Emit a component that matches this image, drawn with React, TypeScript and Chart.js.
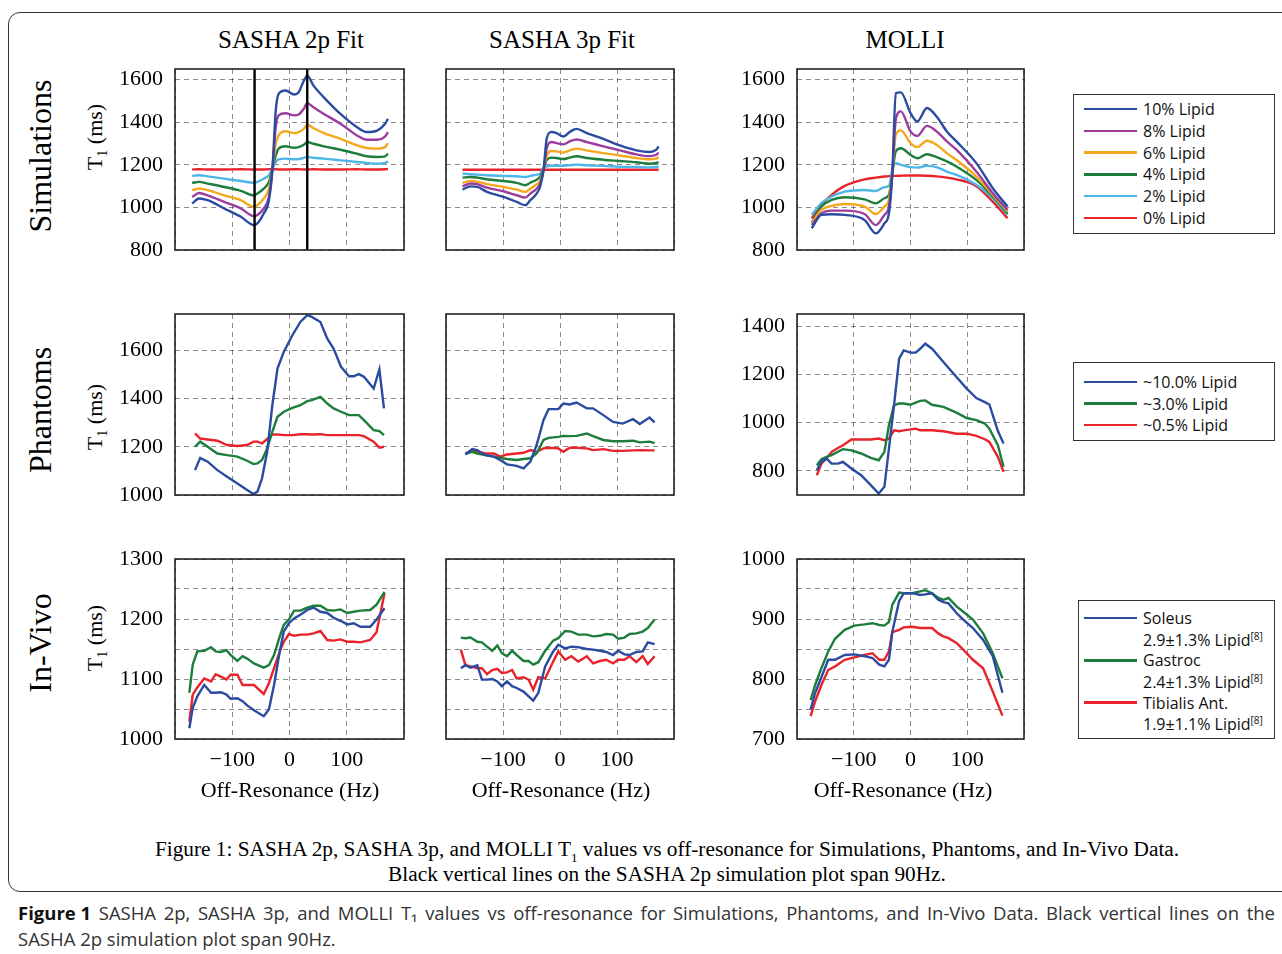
import React, { useEffect, useRef } from 'react';
import { Chart, registerables } from 'chart.js';
Chart.register(...registerables);

// ---------- DATA ----------
// Row 1: Simulations
const sim2pHz = [-170, -158, -143, -114, -85, -62, -56, -45, -36, -30, -24, -19, -7, 8, 16, 25, 31, 42, 60, 89, 118, 135, 153, 167, 172];
const sim2pLipid10 = [1018, 1042, 1034, 995, 956, 917, 925, 971, 1034, 1174, 1455, 1533, 1549, 1530, 1541, 1595, 1619, 1572, 1517, 1439, 1377, 1354, 1361, 1393, 1416];
const sim2pLipid8 = [1049, 1068, 1057, 1026, 995, 959, 964, 995, 1049, 1174, 1377, 1432, 1442, 1432, 1436, 1463, 1489, 1470, 1439, 1393, 1338, 1318, 1318, 1333, 1354];
const sim2pLipid6 = [1081, 1088, 1081, 1057, 1034, 1003, 1010, 1041, 1088, 1174, 1299, 1338, 1358, 1349, 1354, 1369, 1388, 1372, 1349, 1322, 1291, 1279, 1276, 1283, 1302];
const sim2pLipid4 = [1115, 1120, 1112, 1096, 1078, 1057, 1065, 1088, 1120, 1177, 1244, 1276, 1287, 1280, 1283, 1294, 1307, 1299, 1287, 1271, 1252, 1240, 1237, 1240, 1252];
const sim2pLipid2 = [1148, 1151, 1146, 1135, 1124, 1115, 1120, 1135, 1151, 1181, 1214, 1226, 1229, 1226, 1227, 1233, 1237, 1233, 1229, 1221, 1213, 1209, 1205, 1209, 1216];
const sim2pLipid0 = [1178, 1179, 1178, 1178, 1179, 1178, 1178, 1178, 1179, 1179, 1179, 1178, 1178, 1179, 1179, 1178, 1178, 1179, 1178, 1178, 1179, 1178, 1178, 1179, 1180];
const sim2pMarkerHz = [-61, 31];

const sim3pHz = [-171, -157, -145, -128, -99, -76, -61, -52, -41, -35, -29, -23, -15, -6, 6, 17, 29, 47, 76, 105, 134, 157, 169, 173];
const sim3pLipid10 = [1084, 1099, 1096, 1073, 1049, 1026, 1010, 1034, 1065, 1096, 1174, 1327, 1354, 1349, 1333, 1354, 1369, 1349, 1322, 1291, 1268, 1260, 1271, 1287];
const sim3pLipid8 = [1099, 1112, 1109, 1093, 1076, 1057, 1046, 1065, 1088, 1112, 1174, 1280, 1307, 1302, 1296, 1310, 1319, 1307, 1287, 1268, 1249, 1241, 1247, 1257];
const sim3pLipid6 = [1115, 1124, 1121, 1109, 1096, 1084, 1073, 1088, 1109, 1124, 1174, 1244, 1265, 1263, 1258, 1268, 1276, 1268, 1255, 1244, 1232, 1226, 1229, 1237];
const sim3pLipid4 = [1140, 1143, 1140, 1132, 1124, 1115, 1104, 1116, 1130, 1143, 1179, 1224, 1234, 1232, 1227, 1234, 1240, 1232, 1224, 1218, 1212, 1205, 1209, 1213];
const sim3pLipid2 = [1159, 1156, 1154, 1151, 1148, 1146, 1143, 1148, 1154, 1159, 1181, 1193, 1196, 1196, 1196, 1198, 1201, 1198, 1195, 1191, 1190, 1188, 1190, 1193];
const sim3pLipid0 = [1177, 1177, 1177, 1177, 1177, 1177, 1177, 1177, 1177, 1177, 1177, 1177, 1177, 1177, 1177, 1177, 1177, 1177, 1177, 1177, 1177, 1177, 1177, 1177];

const simMolliHz = [-174, -157, -139, -116, -81, -61, -46, -38, -32, -26, -17, 0, 12, 29, 46, 64, 81, 116, 145, 171];
const simMolliLipid10 = [902, 965, 968, 965, 941, 878, 925, 972, 1161, 1537, 1540, 1443, 1404, 1467, 1427, 1357, 1310, 1208, 1090, 1004];
const simMolliLipid8 = [917, 972, 985, 985, 969, 917, 965, 1004, 1161, 1412, 1451, 1357, 1336, 1383, 1357, 1310, 1271, 1169, 1067, 988];
const simMolliLipid6 = [925, 988, 1007, 1016, 1004, 969, 1004, 1035, 1161, 1341, 1362, 1302, 1283, 1313, 1294, 1255, 1223, 1145, 1059, 980];
const simMolliLipid4 = [928, 1004, 1035, 1048, 1038, 1019, 1043, 1059, 1161, 1263, 1278, 1247, 1231, 1250, 1236, 1216, 1192, 1129, 1051, 972];
const simMolliLipid2 = [965, 1020, 1051, 1074, 1082, 1077, 1095, 1101, 1176, 1208, 1200, 1189, 1187, 1195, 1189, 1168, 1153, 1106, 1043, 965];
const simMolliLipid0 = [949, 1012, 1059, 1101, 1132, 1140, 1145, 1147, 1148, 1148, 1149, 1150, 1150, 1149, 1146, 1140, 1132, 1100, 1027, 949];

// Row 2: Phantoms
const ph2pHz = [-165, -156, -143, -126, -109, -91, -74, -63, -56, -48, -39, -30, -21, -10, 5, 19, 31, 39, 54, 66, 77, 90, 104, 112, 121, 130, 147, 157, 165];
const ph2pLipid10 = [1103, 1154, 1138, 1103, 1076, 1048, 1021, 1004, 1014, 1069, 1179, 1372, 1524, 1593, 1662, 1717, 1745, 1738, 1717, 1648, 1607, 1531, 1492, 1492, 1501, 1490, 1441, 1520, 1359];
const ph2pLipid3 = [1200, 1221, 1200, 1172, 1165, 1159, 1142, 1128, 1131, 1145, 1193, 1262, 1324, 1345, 1361, 1372, 1389, 1393, 1407, 1379, 1359, 1345, 1331, 1331, 1331, 1310, 1269, 1265, 1248];
const ph2pLipid05 = [1255, 1234, 1230, 1225, 1207, 1203, 1207, 1221, 1221, 1214, 1232, 1251, 1251, 1248, 1248, 1252, 1252, 1251, 1252, 1248, 1248, 1248, 1248, 1248, 1248, 1244, 1221, 1196, 1200];

const ph3pHz = [-166, -154, -145, -131, -116, -105, -93, -76, -64, -52, -41, -29, -20, -3, 6, 17, 29, 47, 58, 76, 93, 110, 128, 140, 157, 166];
const ph3pLipid10 = [1168, 1190, 1186, 1165, 1159, 1145, 1127, 1121, 1110, 1138, 1207, 1310, 1356, 1356, 1379, 1375, 1383, 1359, 1359, 1331, 1303, 1296, 1314, 1294, 1321, 1301];
const ph3pLipid3 = [1170, 1179, 1172, 1165, 1159, 1154, 1149, 1145, 1149, 1152, 1172, 1228, 1237, 1241, 1245, 1244, 1245, 1255, 1244, 1228, 1223, 1223, 1225, 1218, 1221, 1215];
const ph3pLipid05 = [1172, 1183, 1179, 1172, 1172, 1159, 1168, 1172, 1175, 1186, 1179, 1193, 1196, 1193, 1179, 1196, 1196, 1193, 1186, 1190, 1183, 1183, 1185, 1186, 1185, 1185];

const phMolliHz = [-165, -157, -148, -139, -128, -119, -104, -87, -70, -56, -46, -38, -29, -20, -12, 0, 9, 17, 26, 38, 58, 81, 99, 116, 131, 139, 154, 164];
const phMolliLipid10 = [803, 837, 851, 830, 830, 837, 810, 782, 741, 706, 734, 892, 1072, 1265, 1299, 1290, 1290, 1306, 1327, 1306, 1251, 1189, 1141, 1102, 1085, 1075, 965, 913];
const phMolliLipid3 = [823, 848, 858, 865, 879, 890, 885, 872, 854, 844, 879, 989, 1072, 1079, 1079, 1074, 1083, 1090, 1092, 1074, 1065, 1041, 1019, 1010, 996, 975, 906, 817];
const phMolliLipid05 = [782, 830, 851, 879, 895, 906, 930, 930, 930, 934, 927, 934, 968, 964, 968, 972, 975, 968, 968, 968, 964, 954, 954, 945, 931, 920, 858, 796];

// Row 3: In-Vivo
const iv2pHz = [-175, -169, -161, -149, -137, -129, -120, -110, -103, -91, -82, -74, -62, -45, -36, -27, -17, -10, -1, 8, 19, 31, 42, 54, 66, 77, 89, 101, 112, 124, 141, 152, 166];
const iv2pSoleus = [1018, 1052, 1071, 1090, 1077, 1077, 1078, 1074, 1067, 1068, 1063, 1056, 1048, 1038, 1049, 1090, 1146, 1179, 1193, 1201, 1207, 1215, 1219, 1212, 1210, 1202, 1197, 1191, 1193, 1187, 1187, 1199, 1218];
const iv2pGastroc = [1077, 1124, 1146, 1147, 1153, 1146, 1145, 1148, 1140, 1130, 1138, 1134, 1126, 1119, 1123, 1140, 1171, 1190, 1199, 1214, 1214, 1219, 1222, 1222, 1215, 1214, 1216, 1210, 1212, 1214, 1215, 1224, 1245];
const iv2pTibialis = [1029, 1074, 1086, 1101, 1096, 1108, 1104, 1099, 1107, 1107, 1090, 1090, 1090, 1075, 1093, 1118, 1146, 1162, 1175, 1172, 1174, 1174, 1176, 1180, 1165, 1164, 1166, 1162, 1162, 1161, 1165, 1178, 1243];

const iv3pHz = [-174, -166, -157, -145, -137, -128, -119, -110, -102, -93, -84, -76, -64, -55, -47, -38, -26, -12, -3, 9, 20, 32, 47, 58, 70, 81, 93, 102, 113, 122, 134, 145, 154, 166];
const iv3pSoleus = [1118, 1123, 1119, 1123, 1099, 1099, 1100, 1096, 1088, 1096, 1088, 1085, 1079, 1071, 1064, 1077, 1121, 1146, 1157, 1151, 1154, 1153, 1150, 1149, 1147, 1145, 1140, 1147, 1141, 1140, 1145, 1146, 1161, 1158];
const iv3pGastroc = [1169, 1168, 1169, 1162, 1161, 1154, 1147, 1156, 1143, 1138, 1147, 1140, 1130, 1130, 1124, 1128, 1147, 1164, 1168, 1180, 1179, 1174, 1174, 1171, 1172, 1175, 1174, 1167, 1169, 1175, 1176, 1179, 1185, 1199];
const iv3pTibialis = [1149, 1123, 1121, 1118, 1118, 1108, 1115, 1117, 1110, 1111, 1115, 1101, 1103, 1099, 1082, 1103, 1101, 1129, 1146, 1132, 1138, 1129, 1138, 1126, 1130, 1132, 1126, 1132, 1132, 1138, 1128, 1138, 1125, 1138];

const ivMolliHz = [-176, -168, -157, -145, -133, -116, -99, -81, -67, -55, -46, -38, -32, -20, -12, 3, 17, 26, 38, 49, 58, 67, 81, 93, 110, 128, 145, 162];
const ivMolliSoleus = [749, 777, 803, 832, 832, 840, 841, 838, 835, 824, 821, 832, 879, 930, 943, 943, 940, 941, 943, 932, 928, 926, 910, 899, 885, 865, 838, 777];
const ivMolliGastroc = [765, 790, 818, 846, 867, 882, 889, 891, 893, 890, 889, 895, 924, 944, 943, 943, 946, 948, 943, 935, 932, 935, 921, 912, 899, 876, 843, 801];
const ivMolliTibialis = [738, 763, 790, 815, 821, 832, 836, 840, 843, 832, 832, 846, 878, 882, 886, 887, 885, 885, 885, 876, 871, 868, 860, 849, 832, 818, 779, 739];

// Labels
const columnTitles = ['SASHA 2p Fit', 'SASHA 3p Fit', 'MOLLI'];
const rowTitles = ['Simulations', 'Phantoms', 'In-Vivo'];
const simLegend = ['10% Lipid', '8% Lipid', '6% Lipid', '4% Lipid', '2% Lipid', '0% Lipid'];
const phantomLegend = ['~10.0% Lipid', '~3.0% Lipid', '~0.5% Lipid'];
const vivoLegendNames = ['Soleus', 'Gastroc', 'Tibialis Ant.'];
const vivoLegendLipid = ['2.9\u00b11.3% Lipid', '2.4\u00b11.3% Lipid', '1.9\u00b11.1% Lipid'];
const xTickLabels = ['\u2212100', '0', '100'];
const outerCaptionLine1 = 'SASHA 2p, SASHA 3p, and MOLLI T\u2081 values vs off-resonance for Simulations, Phantoms, and In-Vivo Data. Black vertical lines on the';

// ---------- STYLE ----------
const COL = { blue: '#2B4BA0', purple: '#9A3D9E', orange: '#F4A81D', green: '#1C7D3C', light: '#4DB6E8', red: '#E8232B' };
const simColors = [COL.blue, COL.purple, COL.orange, COL.green, COL.light, COL.red];
const threeColors = [COL.blue, COL.green, COL.red];
const SERIF = '"Liberation Serif", "Times New Roman", serif';
const SANS = '"Open Sans", "Noto Sans", sans-serif';

const colGeo = [{ L: 175, W: 229 }, { L: 446, W: 228 }, { L: 797, W: 227 }];
const rowGeo = [{ T: 69, H: 181 }, { T: 314, H: 181 }, { T: 559, H: 180 }];

type PlotSpec = {
  row: number; col: number; hz: number[]; series: number[][]; colors: string[];
  yMin: number; yMax: number; yStep: number; yLabelStep: number; smooth: boolean; vlines?: number[];
};

const AXW = 70, PADT = 15, PADR = 10;

function Plot({ spec }: { spec: PlotSpec }) {
  const ref = useRef<HTMLCanvasElement>(null);
  const { L, W } = colGeo[spec.col];
  const { T, H } = rowGeo[spec.row];
  const showX = spec.row === 2;
  const showY = spec.col !== 1;
  const xh = showX ? 40 : 10;
  const cw = W + AXW + PADR;
  const ch = H + PADT + xh;
  useEffect(() => {
    const datasets: any[] = spec.series.map((s, k) => ({
      data: spec.hz.map((x, i) => ({ x, y: s[i] })),
      borderColor: spec.colors[k],
      borderWidth: 2.4,
      pointRadius: 0,
      fill: false,
      tension: 0,
      cubicInterpolationMode: spec.smooth ? 'monotone' : 'default',
      order: k,
    }));
    (spec.vlines || []).forEach((v) => {
      datasets.push({
        data: [{ x: v, y: spec.yMin }, { x: v, y: spec.yMax }],
        borderColor: '#000', borderWidth: 2.4, pointRadius: 0, fill: false, order: -1,
      });
    });
    const frame = {
      id: 'frame',
      afterDatasetsDraw(chart: any) {
        const { ctx, chartArea: a } = chart;
        ctx.save();
        ctx.setLineDash([]);
        ctx.strokeStyle = '#222';
        ctx.lineWidth = 1.6;
        ctx.strokeRect(a.left, a.top, a.right - a.left, a.bottom - a.top);
        ctx.restore();
      },
    };
    const chart = new Chart(ref.current as HTMLCanvasElement, {
      type: 'line',
      data: { datasets },
      plugins: [frame],
      options: {
        animation: false,
        responsive: false,
        maintainAspectRatio: false,
        layout: { padding: { top: PADT, right: PADR, left: 0, bottom: 0 } },
        plugins: { legend: { display: false }, tooltip: { enabled: false }, title: { display: false } },
        scales: {
          x: {
            type: 'linear', min: -200, max: 200,
            afterFit: (s: any) => { s.height = xh; s.paddingLeft = 0; s.paddingRight = 0; },
            ticks: {
              display: showX, stepSize: 100, includeBounds: false, autoSkip: false, maxRotation: 0,
              padding: 8, color: '#000', font: { family: SERIF, size: 22 },
              callback: (v: any) => {
                const n = Number(v);
                if (n === -100) return xTickLabels[0];
                if (n === 0) return xTickLabels[1];
                if (n === 100) return xTickLabels[2];
                return '';
              },
            },
            grid: { color: 'rgba(0,0,0,0.45)', lineWidth: 1, drawTicks: false },
            border: { display: false, dash: [5, 4] },
          },
          y: {
            type: 'linear', min: spec.yMin, max: spec.yMax,
            afterFit: (s: any) => { s.width = AXW; s.paddingTop = 0; s.paddingBottom = 0; },
            ticks: {
              display: showY, stepSize: spec.yStep, includeBounds: false, autoSkip: false,
              padding: 12, color: '#000', font: { family: SERIF, size: 22 },
              callback: (v: any) => (Number(v) % spec.yLabelStep === 0 ? String(v) : ''),
            },
            grid: { color: 'rgba(0,0,0,0.45)', lineWidth: 1, drawTicks: false },
            border: { display: false, dash: [5, 4] },
          },
        },
      } as any,
    });
    return () => chart.destroy();
  }, []);
  return (
    <canvas
      ref={ref}
      width={cw}
      height={ch}
      style={{ position: 'absolute', left: L - AXW, top: T - PADT, width: cw, height: ch }}
    />
  );
}

const plots: PlotSpec[] = [
  { row: 0, col: 0, hz: sim2pHz, series: [sim2pLipid10, sim2pLipid8, sim2pLipid6, sim2pLipid4, sim2pLipid2, sim2pLipid0], colors: simColors, yMin: 800, yMax: 1650, yStep: 200, yLabelStep: 200, smooth: true, vlines: sim2pMarkerHz },
  { row: 0, col: 1, hz: sim3pHz, series: [sim3pLipid10, sim3pLipid8, sim3pLipid6, sim3pLipid4, sim3pLipid2, sim3pLipid0], colors: simColors, yMin: 800, yMax: 1650, yStep: 200, yLabelStep: 200, smooth: true },
  { row: 0, col: 2, hz: simMolliHz, series: [simMolliLipid10, simMolliLipid8, simMolliLipid6, simMolliLipid4, simMolliLipid2, simMolliLipid0], colors: simColors, yMin: 800, yMax: 1650, yStep: 200, yLabelStep: 200, smooth: true },
  { row: 1, col: 0, hz: ph2pHz, series: [ph2pLipid10, ph2pLipid3, ph2pLipid05], colors: threeColors, yMin: 1000, yMax: 1750, yStep: 200, yLabelStep: 200, smooth: false },
  { row: 1, col: 1, hz: ph3pHz, series: [ph3pLipid10, ph3pLipid3, ph3pLipid05], colors: threeColors, yMin: 1000, yMax: 1750, yStep: 200, yLabelStep: 200, smooth: false },
  { row: 1, col: 2, hz: phMolliHz, series: [phMolliLipid10, phMolliLipid3, phMolliLipid05], colors: threeColors, yMin: 700, yMax: 1450, yStep: 200, yLabelStep: 200, smooth: false },
  { row: 2, col: 0, hz: iv2pHz, series: [iv2pSoleus, iv2pGastroc, iv2pTibialis], colors: threeColors, yMin: 1000, yMax: 1300, yStep: 50, yLabelStep: 100, smooth: false },
  { row: 2, col: 1, hz: iv3pHz, series: [iv3pSoleus, iv3pGastroc, iv3pTibialis], colors: threeColors, yMin: 1000, yMax: 1300, yStep: 50, yLabelStep: 100, smooth: false },
  { row: 2, col: 2, hz: ivMolliHz, series: [ivMolliSoleus, ivMolliGastroc, ivMolliTibialis], colors: threeColors, yMin: 700, yMax: 1000, yStep: 50, yLabelStep: 100, smooth: false },
];

function Txt({ x, y, size, family, children, rotate, weight, color }: any) {
  return (
    <div
      style={{
        position: 'absolute', left: x, top: y, whiteSpace: 'nowrap', lineHeight: 1,
        fontFamily: family || SERIF, fontSize: size, fontWeight: weight || 'normal', color: color || '#000',
        transform: `translate(-50%, -50%)${rotate ? ' rotate(-90deg)' : ''}`,
      }}
    >
      {children}
    </div>
  );
}

function LegendLine({ x, y, color }: any) {
  return <div style={{ position: 'absolute', left: x, top: y - 1.25, width: 53, height: 2.5, background: color }} />;
}
function LegendText({ x, y, children }: any) {
  return (
    <div style={{ position: 'absolute', left: x, top: y, transform: 'translateY(-50%)', fontFamily: SANS, fontSize: 16, lineHeight: 1, whiteSpace: 'nowrap', color: '#111' }}>
      {children}
    </div>
  );
}

export default function App() {
  const lx = 1084, tx = 1143;
  const words = outerCaptionLine1.split(' ');
  return (
    <div style={{ position: 'absolute', left: 0, top: 0, width: 1282, height: 954, background: '#fff', overflow: 'hidden' }}>
      <div style={{ position: 'absolute', left: 8, top: 12, width: 1300, height: 880, border: '1.5px solid #333', borderRadius: 12, boxSizing: 'border-box' }} />

      {columnTitles.map((t, i) => (
        <Txt key={t} x={[291, 562, 905][i]} y={39} size={25}>{t}</Txt>
      ))}
      {rowTitles.map((t, i) => (
        <Txt key={t} x={40} y={[156, 410, 643][i]} size={32} rotate>{t}</Txt>
      ))}
      {[137, 417, 638].map((y) => (
        <Txt key={y} x={95} y={y} size={22} rotate>
          T<sub style={{ fontSize: 14, verticalAlign: 'sub', lineHeight: 0 }}>1</sub> (ms)
        </Txt>
      ))}

      {plots.map((p, i) => <Plot key={i} spec={p} />)}

      {[290, 561, 903].map((x) => (
        <Txt key={x} x={x} y={790} size={22}>Off-Resonance (Hz)</Txt>
      ))}

      {/* Legend 1 */}
      <div style={{ position: 'absolute', left: 1073, top: 94, width: 202, height: 140, border: '1.5px solid #333', boxSizing: 'border-box' }} />
      {simLegend.map((t, i) => {
        const y = 109 + i * 21.8;
        return (
          <React.Fragment key={t}>
            <LegendLine x={lx} y={y} color={simColors[i]} />
            <LegendText x={tx} y={y}>{t}</LegendText>
          </React.Fragment>
        );
      })}

      {/* Legend 2 */}
      <div style={{ position: 'absolute', left: 1073, top: 362, width: 202, height: 79, border: '1.5px solid #333', boxSizing: 'border-box' }} />
      {phantomLegend.map((t, i) => {
        const y = 382 + i * 21.5;
        return (
          <React.Fragment key={t}>
            <LegendLine x={lx} y={y} color={threeColors[i]} />
            <LegendText x={tx} y={y}>{t}</LegendText>
          </React.Fragment>
        );
      })}

      {/* Legend 3 */}
      <div style={{ position: 'absolute', left: 1078, top: 600, width: 197, height: 139, border: '1.5px solid #333', boxSizing: 'border-box' }} />
      {vivoLegendNames.map((t, i) => {
        const y = 618 + i * 42.3;
        return (
          <React.Fragment key={t}>
            <LegendLine x={lx} y={y} color={threeColors[i]} />
            <LegendText x={tx} y={y}>{t}</LegendText>
            <LegendText x={tx} y={y + 21.5}>
              {vivoLegendLipid[i]}<sup style={{ fontSize: 10, verticalAlign: 'super', lineHeight: 0 }}>[8]</sup>
            </LegendText>
          </React.Fragment>
        );
      })}

      {/* Inner caption */}
      <Txt x={667} y={850} size={21.3}>
        Figure 1: SASHA 2p, SASHA 3p, and MOLLI T<sub style={{ fontSize: 13, verticalAlign: 'sub', lineHeight: 0 }}>1</sub> values vs off-resonance for Simulations, Phantoms, and In-Vivo Data.
      </Txt>
      <Txt x={667} y={875} size={21.3}>Black vertical lines on the SASHA 2p simulation plot span 90Hz.</Txt>

      {/* Outer caption */}
      <div style={{ position: 'absolute', left: 18, top: 899, width: 1257, height: 26, display: 'flex', justifyContent: 'space-between', alignItems: 'center', fontFamily: SANS, fontSize: 18.5, color: '#333', whiteSpace: 'nowrap' }}>
        <b style={{ color: '#111' }}>Figure 1</b>
        {words.map((w, i) => <span key={i}>{w}</span>)}
      </div>
      <div style={{ position: 'absolute', left: 18, top: 925, height: 26, display: 'flex', alignItems: 'center', fontFamily: SANS, fontSize: 18.5, color: '#333', whiteSpace: 'nowrap' }}>
        SASHA 2p simulation plot span 90Hz.
      </div>
    </div>
  );
}
